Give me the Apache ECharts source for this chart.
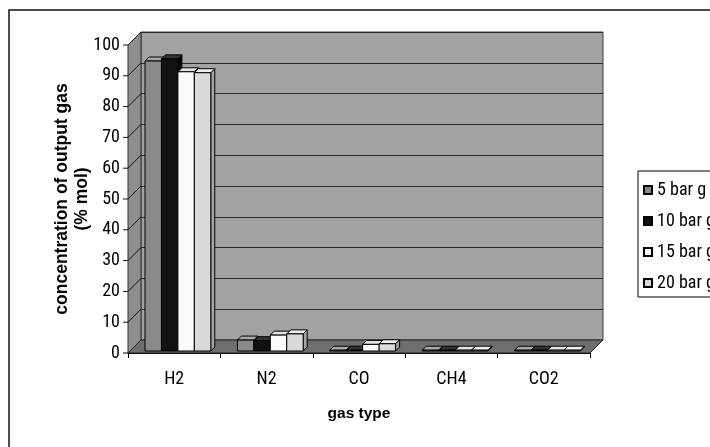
<!DOCTYPE html>
<html>
<head>
<meta charset="utf-8">
<script src="https://cdn.jsdelivr.net/npm/echarts@6/dist/echarts.min.js"></script>
<style>
  html, body { margin: 0; padding: 0; background: #fff; }
  #chart { width: 710px; height: 447px; }
</style>
</head>
<body>
<div id="chart"></div>
<script>
// Output gas composition by operating pressure
const categories = ['H2', 'N2', 'CO', 'CH4', 'CO2'];
const seriesNames = ['5 bar g', '10 bar g', '15 bar g', '20 bar g'];
const bar5 = [94.8, 4.2, 0.6, 0.2, 0.1];
const bar10 = [95.5, 4.0, 0.6, 0.2, 0.1];
const bar15 = [91.3, 5.8, 2.8, 0.4, 0.3];
const bar20 = [91.0, 6.2, 3.0, 0.4, 0.3];
const yMin = 0, yMax = 100, yStep = 10;

const seriesValues = [bar5, bar10, bar15, bar20];
// front / top / side face shades per series
const faces = [
  { front: '#8a8a8a', top: '#a9a9a9', side: '#5c5c5c' },
  { front: '#111111', top: '#333333', side: '#000000' },
  { front: '#fbfbfb', top: '#e2e2e2', side: '#bcbcbc' },
  { front: '#dadada', top: '#efefef', side: '#a5a5a5' }
];

const NARROW = "'Roboto Condensed', 'Liberation Sans', Arial, sans-serif";
const BOLD = "'Liberation Sans', Arial, sans-serif";
const W = 710, H = 447;
const front = { left: 128, right: 120, top: 45, bottom: 94 };
const DX = 13, DY = 13; // depth of the back wall
const back = {
  left: front.left + DX, right: front.right - DX,
  top: front.top - DY, bottom: front.bottom + DY
};
const BDX = 4, BDY = 4; // depth of a bar

function renderBar(params, api) {
  const si = params.seriesIndex;
  const cat = api.value(0), val = api.value(1);
  const topPt = api.coord([cat, val]);
  const basePt = api.coord([cat, 0]);
  const cw = api.size([1, 0])[0];
  const bw = cw * 0.178;
  const x0 = basePt[0] - cw * 0.356 + cw * 0.04 + si * bw;
  const yb = basePt[1] - 2, yt = Math.min(topPt[1], yb - 0.8);
  const f = faces[si];
  const st = { stroke: '#000', lineWidth: 1 };
  return {
    type: 'group',
    children: [
      { type: 'polygon', shape: { points: [[x0 + bw, yt], [x0 + bw + BDX, yt - BDY], [x0 + bw + BDX, yb - BDY], [x0 + bw, yb]] },
        style: Object.assign({ fill: f.side }, st) },
      { type: 'polygon', shape: { points: [[x0, yt], [x0 + BDX, yt - BDY], [x0 + bw + BDX, yt - BDY], [x0 + bw, yt]] },
        style: Object.assign({ fill: f.top }, st) },
      { type: 'rect', shape: { x: x0, y: yt, width: bw, height: yb - yt },
        style: Object.assign({ fill: f.front }, st) }
    ]
  };
}

const chart = echarts.init(document.getElementById('chart'), null, { renderer: 'canvas' });

const option = {
  backgroundColor: '#ffffff',
  animation: false,
  grid: [
    Object.assign({ show: true, backgroundColor: '#a2a2a2', borderColor: '#3a3a3a', borderWidth: 1 }, back),
    Object.assign({ show: false }, front)
  ],
  xAxis: [
    { gridIndex: 0, type: 'category', data: categories, show: false },
    {
      gridIndex: 1, type: 'category', data: categories,
      axisLine: { show: true, lineStyle: { color: '#000', width: 1 } },
      axisTick: { show: true, alignWithLabel: false, length: 5, lineStyle: { color: '#000' } },
      axisLabel: { color: '#000', fontFamily: NARROW, fontSize: 18, margin: 17 },
      name: 'gas type', nameLocation: 'middle', nameGap: 53, nameMoveOverlap: false,
      nameTextStyle: { color: '#000', fontFamily: BOLD, fontSize: 15.5, fontWeight: 'bold' }
    }
  ],
  yAxis: [
    {
      gridIndex: 0, type: 'value', min: yMin, max: yMax, interval: yStep,
      axisLine: { show: false }, axisTick: { show: false }, axisLabel: { show: false },
      splitLine: { show: true, lineStyle: { color: '#2a2a2a', width: 1 } }
    },
    {
      gridIndex: 1, type: 'value', min: yMin, max: yMax, interval: yStep,
      axisLine: { show: true, lineStyle: { color: '#000', width: 1 } },
      axisTick: { show: false },
      splitLine: { show: false },
      axisLabel: { color: '#000', fontFamily: NARROW, fontSize: 18, margin: 8 },
      name: 'concentration of output gas\n(% mol)', nameLocation: 'middle', nameGap: 36, nameRotate: 90,
      nameMoveOverlap: false,
      nameTextStyle: { color: '#000', fontFamily: BOLD, fontSize: 17.5, fontWeight: 'bold', lineHeight: 20 }
    }
  ],
  legend: {
    orient: 'vertical', left: 638, top: 171,
    data: seriesNames.map(n => ({ name: n, icon: 'rect' })),
    itemWidth: 8, itemHeight: 8, itemGap: 13,
    borderColor: '#000', borderWidth: 1, padding: [10, 30, 5, 5],
    textStyle: { color: '#000', fontFamily: NARROW, fontSize: 18 },
    selectedMode: false
  },
  series: seriesNames.map((name, i) => ({
    name: name,
    type: 'custom',
    xAxisIndex: 1, yAxisIndex: 1,
    z: 5,
    renderItem: renderBar,
    itemStyle: { color: faces[i].front, borderColor: '#000', borderWidth: 1 },
    encode: { x: 0, y: 1 },
    data: seriesValues[i].map((v, k) => [k, v])
  }))
};

chart.setOption(option);

// side wall, floor and outer frame, placed from the axis scales
function decorations() {
  const xL = front.left, xR = W - front.right;
  const y0 = chart.convertToPixel({ yAxisIndex: 1 }, yMin);
  const y1 = chart.convertToPixel({ yAxisIndex: 1 }, yMax);
  const els = [];
  els.push({ type: 'rect', z: 0, silent: true, shape: { x: 9, y: 10, width: 760, height: 500 },
    style: { fill: 'none', stroke: '#111', lineWidth: 1.5 } });
  els.push({ type: 'polygon', z: 1, silent: true,
    shape: { points: [[xL, y1], [xL + DX, y1 - DY], [xL + DX, y0 - DY], [xL, y0]] },
    style: { fill: '#8e8e8e', stroke: '#333', lineWidth: 1 } });
  for (let v = yMin; v <= yMax; v += yStep) {
    const y = chart.convertToPixel({ yAxisIndex: 1 }, v);
    els.push({ type: 'line', z: 1, silent: true,
      shape: { x1: xL - 5, y1: y, x2: xL, y2: y },
      style: { stroke: '#111', lineWidth: 1 } });
    els.push({ type: 'line', z: 1, silent: true,
      shape: { x1: xL, y1: y, x2: xL + DX, y2: y - DY },
      style: { stroke: '#111', lineWidth: 1 } });
  }
  els.push({ type: 'polygon', z: 1, silent: true,
    shape: { points: [[xL, y0], [xL + DX, y0 - DY], [xR + DX, y0 - DY], [xR, y0]] },
    style: { fill: '#6e6e6e', stroke: '#222', lineWidth: 1 } });
  return els;
}
chart.setOption({ graphic: { elements: decorations() } });
</script>
</body>
</html>
